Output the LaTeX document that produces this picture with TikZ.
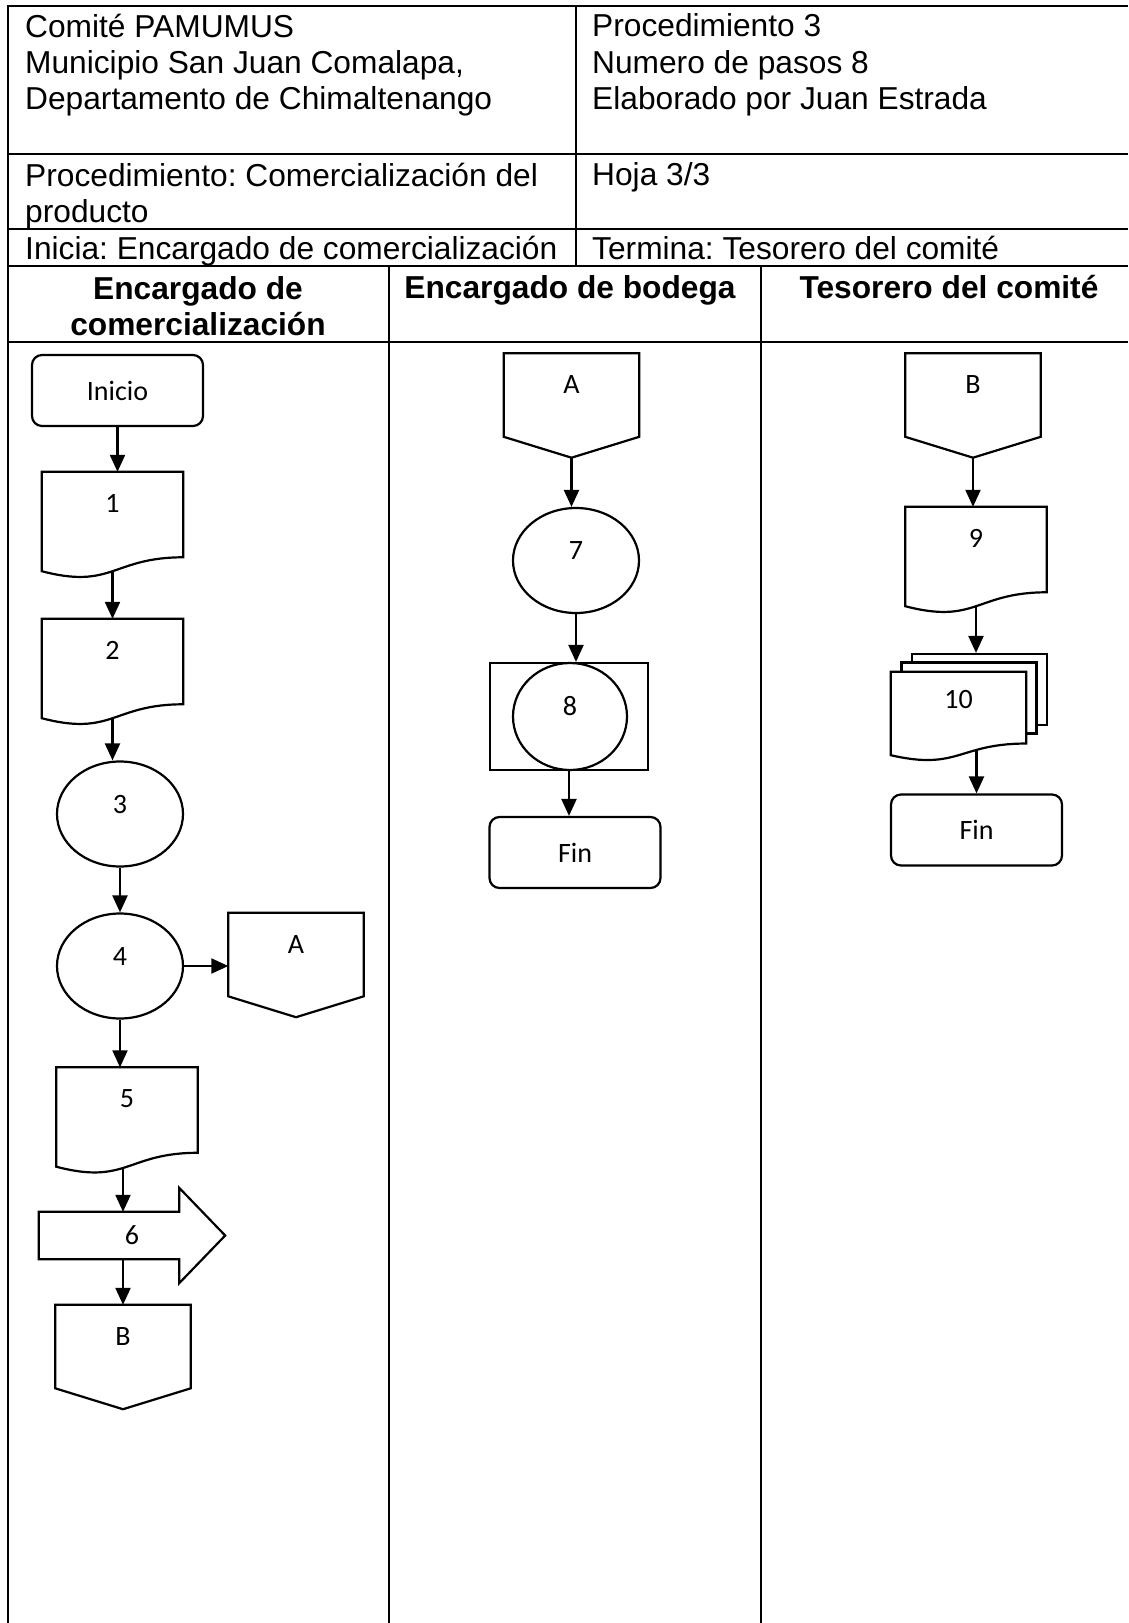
\documentclass[tikz,border=0pt]{standalone}
\usepackage{fontspec}
\setmainfont{Liberation Sans}
\newfontfamily\flowfam{Carlito}
\usetikzlibrary{arrows.meta,shapes.geometric,calc,backgrounds}
\frenchspacing
\newcommand{\tabfont}{\fontsize{31.7}{36.5}\selectfont}
\newcommand{\flowfont}{\flowfam\fontsize{28}{32}\selectfont}
\newcommand{\docline}[2][]{%
    \draw[shapeline,#1] let \p1=(#2.north west), \p2=(#2.south east) in
        (\p1) -- (\x2,\y1) -- (\x2,{\y2+0.14*(\y1-\y2)})
        .. controls ({0.5*(\x1+\x2)},{\y2+0.14*(\y1-\y2)}) and ({0.5*(\x1+\x2)},{\y2-0.187*(\y1-\y2)}) .. (\x1,\y2) -- cycle;}
\newcommand{\pageline}[1]{%
    \draw[shapeline] let \p1=(#1.north west), \p2=(#1.south east) in
        (\p1) -- (\x2,\y1) -- (\x2,{\y2+0.2*(\y1-\y2)}) -- (#1.south) -- (\x1,{\y2+0.2*(\y1-\y2)}) -- cycle;}
\newcommand{\bigarrowline}[1]{%
    \draw[shapeline] let \p1=(#1.north west), \p2=(#1.south east) in
        (\p1) -- ({\x2-46pt},\y1) -- ({\x2-46pt},{\y1+24pt}) -- (#1.east) -- ({\x2-46pt},{\y2-24pt}) -- ({\x2-46pt},\y2) -- (\x1,\y2) -- cycle;}
\begin{document}
\begin{tikzpicture}[x=1pt, y=-1pt,
        tabline/.style={line width=1.8pt},
        shapeline/.style={line width=2.2pt, line join=miter},
        tabtext/.style={font=\tabfont, anchor=base west, inner sep=0pt},
        lanehead/.style={font=\tabfont\bfseries, anchor=base, inner sep=0pt},
        terminal/.style={draw, shapeline, rounded corners=10pt, minimum width=171pt, minimum height=71pt, inner sep=0pt, font=\flowfont},
        process/.style={draw, shapeline, ellipse, minimum width=126pt, minimum height=105pt, inner sep=0pt, font=\flowfont, text height=18pt, text depth=20pt},
        docnode/.style={minimum width=141pt, minimum height=99pt, inner sep=0pt, font=\flowfont, text height=18pt, text depth=37pt},
        pagenode/.style={minimum width=135pt, minimum height=104pt, inner sep=0pt, font=\flowfont, text height=18pt, text depth=42pt},
        sheet/.style={draw, shapeline, fill=white, minimum width=135pt, minimum height=71pt, inner sep=0pt},
        flow/.style={line width=2.2pt, -{Triangle[length=17pt, width=15pt]}}]
    \useasboundingbox (0,0) rectangle (1128,1623);
    \draw[tabline] (8,1623) -- (8,6) -- (1128,6);
    \foreach \y in {154,229,266,342}
        \draw[tabline] (8,\y) -- (1128,\y);
    \draw[tabline] (576,6) -- (576,266);
    \draw[tabline] (389,266) -- (389,1623);
    \draw[tabline] (761,266) -- (761,1623);

    \node[tabtext] (comite) at (25,37) {Comité PAMUMUS};
    \node[tabtext] (municipio) at (25,73) {Municipio San Juan Comalapa,};
    \node[tabtext] (depto) at (25,109) {Departamento de Chimaltenango};
    \node[tabtext] (proc) at (592,36) {Procedimiento 3};
    \node[tabtext] (pasos) at (592,73) {Numero de pasos 8};
    \node[tabtext] (autor) at (592,109) {Elaborado por Juan Estrada};
    \node[tabtext] (nombre) at (25,186) {Procedimiento: Comercialización del};
    \node[tabtext] (nombre2) at (25,222) {producto};
    \node[tabtext] (hoja) at (592,185) {Hoja 3/3};
    \node[tabtext] (inicia) at (25,259) {Inicia: Encargado de comercialización};
    \node[tabtext] (termina) at (592,259) {Termina: Tesorero del comité};
    \node[lanehead] (lane1) at (198,299) {Encargado de};
    \node[lanehead] (lane1b) at (198,335) {comercialización};
    \node[lanehead] (lane2) at (570,298) {Encargado de bodega};
    \node[lanehead] (lane3) at (949,298) {Tesorero del comité};

    \node[terminal] (inicio) at (117.5,390.5) {Inicio};
    \node[docnode] (d1) at (112.5,521.5) {1};
    \docline{d1}
    \node[docnode] (d2) at (112.5,668.5) {2};
    \docline{d2}
    \node[process] (e3) at (120,814) {3};
    \node[process] (e4) at (120,966) {4};
    \node[pagenode] (a1) at (296,965) {A};
    \pageline{a1}
    \node[docnode] (d5) at (127,1117) {5};
    \docline{d5}
    \node[minimum width=186pt, minimum height=47pt, inner sep=0pt, font=\flowfont] (p6) at (132,1235.5) {6};
    \bigarrowline{p6}
    \node[pagenode] (b1) at (123,1357) {B};
    \pageline{b1}

    \node[pagenode] (a2) at (571.5,405.5) {A};
    \pageline{a2}
    \node[process] (e7) at (576,560.5) {7};
    \node[draw, shapeline, minimum width=158pt, minimum height=107pt] (r8) at (569,716.5) {};
    \node[process, minimum width=114pt, minimum height=107pt] (e8) at (570,716.5) {8};
    \node[terminal] (fin2) at (575,852.5) {Fin};

    \node[pagenode] (b2) at (973,405.5) {B};
    \pageline{b2}
    \node[docnode] (d9) at (976,556.5) {9};
    \docline{d9}
    \node[docnode, minimum width=135pt, minimum height=83pt, text depth=29pt] (d10) at (958.5,713.5) {10};
    \begin{pgfonlayer}{background}
        \node[sheet] (m10c) at (979.5,689.5) {};
        \node[sheet] (m10b) at (969,698) {};
        \docline[fill=white]{d10}
    \end{pgfonlayer}
    \node[terminal] (fin3) at (976.5,830) {Fin};

    \draw[flow] (inicio.south) -- (inicio.south |- d1.north);
    \draw[flow] (d1.south) -- (d1.south |- d2.north);
    \draw[flow] (d2.south) -- (d2.south |- e3.north);
    \draw[flow] (e3.south) -- (e4.north);
    \draw[flow] (e4.east) -- (e4.east -| a1.west);
    \draw[flow] (e4.south) -- (e4.south |- d5.north);
    \draw[flow] (d5.south -| b1.north) -- (p6.north -| b1.north);
    \draw[flow] (p6.south -| b1.north) -- (b1.north);
    \draw[flow] (a2.south) -- (a2.south |- e7.north);
    \draw[flow] (e7.south) -- (e7.south |- r8.north);
    \draw[flow] (r8.south) -- (r8.south |- fin2.north);
    \draw[flow] (b2.south) -- (b2.south |- d9.north);
    \draw[flow] (d9.south) -- (d9.south |- m10c.north);
    \draw[flow, shorten <=-5pt] (d10.south -| fin3.north) -- (fin3.north);
\end{tikzpicture}
\end{document}
